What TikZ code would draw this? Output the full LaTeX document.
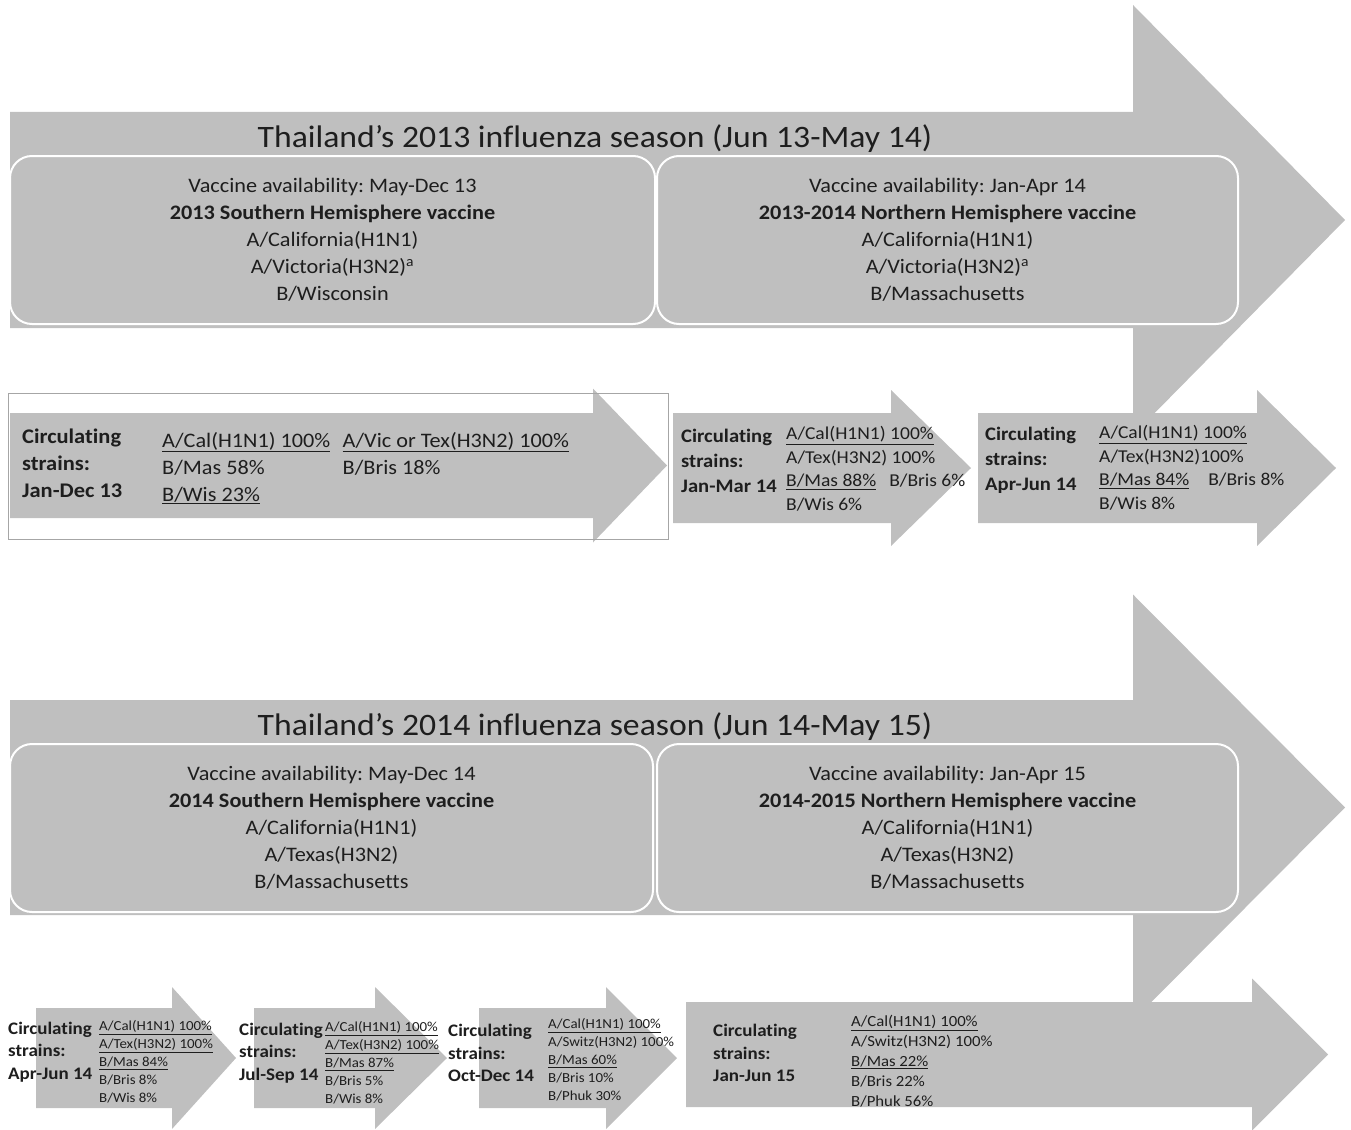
\documentclass[tikz,border=0pt]{standalone}
\usepackage{fontspec}
\setmainfont{Carlito}[FakeStretch=1.08,Ligatures=NoCommon]
\usepackage{xcolor}
\usepackage{tikz}
\usetikzlibrary{positioning}
\definecolor{arrowgray}{HTML}{BFBFBF}
\definecolor{inkgray}{HTML}{1E1E1E}
\definecolor{framegray}{HTML}{A6A6A6}
\frenchspacing

% block arrow: x left, y top, y bottom, x head, x tip, half head
\newcommand{\blockarrow}[6]{%
  \fill[arrowgray] (#1,#2) -- (#4,#2) -- (#4,{(#2+#3)/2-#6}) -- (#5,{(#2+#3)/2})
    -- (#4,{(#2+#3)/2+#6}) -- (#4,#3) -- (#1,#3) -- cycle;}

\begin{document}
\begin{tikzpicture}[
  x=1pt,y=-1pt,
  every node/.style={inner sep=0pt,text=inkgray},
  season/.style={font=\fontsize{31.2}{36}\selectfont},
  vacbox/.style={draw=white,line width=2pt,rounded corners=22pt,fill=arrowgray,align=center,
    minimum height=168pt,font=\fontsize{20.6}{27}\selectfont},
  circlarge/.style={anchor=west,align=left,font=\bfseries\fontsize{20.8}{27}\selectfont},
  circmid/.style={anchor=west,align=left,font=\bfseries\fontsize{19.1}{25}\selectfont},
  circsmall/.style={anchor=west,align=left,font=\bfseries\fontsize{17.6}{22.5}\selectfont},
  strainlarge/.style={anchor=west,align=left,font=\fontsize{20.6}{27}\selectfont},
  strainmid/.style={anchor=west,align=left,font=\fontsize{18.1}{23.5}\selectfont},
  strainsmall/.style={anchor=west,align=left,font=\fontsize{13.8}{18}\selectfont},
  strainwide/.style={anchor=west,align=left,font=\fontsize{15.5}{20}\selectfont}
]
\useasboundingbox (0,0) rectangle (1351,1129);

% season arrows
\blockarrow{10}{112}{328}{1133}{1345}{215}
\blockarrow{10}{700}{915}{1133}{1345}{213}

% 2013 season
\node[season] (title13) at (595,139) {Thailand’s 2013 influenza season (Jun 13-May 14)};
\node[vacbox,minimum width=645pt] (sh13) at (332.5,240) {Vaccine availability: May-Dec 13\\
  \textbf{2013 Southern Hemisphere vaccine}\\A/California(H1N1)\\
  A/Victoria(H3N2)\textsuperscript{a}\\B/Wisconsin};
\node[vacbox,minimum width=581pt,right=0pt of sh13] (nh1314) {Vaccine availability: Jan-Apr 14\\
  \textbf{2013-2014 Northern Hemisphere vaccine}\\A/California(H1N1)\\
  A/Victoria(H3N2)\textsuperscript{a}\\B/Massachusetts};

\blockarrow{10}{413}{518}{593}{667}{77}
\blockarrow{673}{413}{523}{891}{971}{78}
\blockarrow{978}{413}{523}{1257}{1336}{78}
\draw[framegray,line width=0.8pt] (8,393) rectangle (668,539);

\node[circlarge] (circ13) at (22,463) {Circulating\\strains:\\Jan-Dec 13};
\node[strainlarge] (str13) at (162,468) {\underline{A/Cal(H1N1) 100\%}\\B/Mas 58\%\\\underline{B/Wis 23\%}};
\node[strainlarge,below right=0pt and 12pt of str13.north east] (str13b)
  {\underline{A/Vic or Tex(H3N2) 100\%}\\B/Bris 18\%};

\node[circmid] (circjm14) at (681,461) {Circulating\\strains:\\Jan-Mar 14};
\node[strainmid] (strjm14) at (786,469) {\underline{A/Cal(H1N1) 100\%}\\A/Tex(H3N2) 100\%\\
  \underline{B/Mas 88\%}\hspace{13pt}B/Bris 6\%\\B/Wis 6\%};

\node[circmid] (circaj14) at (985,460) {Circulating\\strains:\\Apr-Jun 14};
\node[strainmid] (straj14) at (1099,468) {\underline{A/Cal(H1N1) 100\%}\\A/Tex(H3N2)100\%\\
  \underline{B/Mas 84\%}\hspace{19pt}B/Bris 8\%\\B/Wis 8\%};

% 2014 season
\node[season] (title14) at (595,727) {Thailand’s 2014 influenza season (Jun 14-May 15)};
\node[vacbox,minimum width=643pt] (sh14) at (331.5,828) {Vaccine availability: May-Dec 14\\
  \textbf{2014 Southern Hemisphere vaccine}\\A/California(H1N1)\\
  A/Texas(H3N2)\\B/Massachusetts};
\node[vacbox,minimum width=581pt,right=2pt of sh14] (nh1415) {Vaccine availability: Jan-Apr 15\\
  \textbf{2014-2015 Northern Hemisphere vaccine}\\A/California(H1N1)\\
  A/Texas(H3N2)\\B/Massachusetts};

\blockarrow{36}{1008}{1108}{172}{236}{71}
\blockarrow{254}{1008}{1108}{375}{447}{71}
\blockarrow{479}{1008}{1108}{606}{677}{71}
\blockarrow{686}{1002}{1107}{1252}{1328}{76}

\node[circsmall] (circaj14b) at (8,1052) {Circulating\\strains:\\Apr-Jun 14};
\node[strainsmall] (straj14b) at (99,1062) {\underline{A/Cal(H1N1) 100\%}\\\underline{A/Tex(H3N2) 100\%}\\
  \underline{B/Mas 84\%}\\B/Bris 8\%\\B/Wis 8\%};

\node[circsmall] (circjs14) at (239,1053) {Circulating\\strains:\\Jul-Sep 14};
\node[strainsmall] (strjs14) at (325,1063) {\underline{A/Cal(H1N1) 100\%}\\\underline{A/Tex(H3N2) 100\%}\\
  \underline{B/Mas 87\%}\\B/Bris 5\%\\B/Wis 8\%};

\node[circsmall] (circod14) at (448,1053) {Circulating\\strains:\\Oct-Dec 14};
\node[strainsmall] (strod14) at (548,1060) {\underline{A/Cal(H1N1) 100\%}\\A/Switz(H3N2) 100\%\\
  \underline{B/Mas 60\%}\\B/Bris 10\%\\B/Phuk 30\%};

\node[circsmall] (circjj15) at (713,1053) {Circulating\\strains:\\Jan-Jun 15};
\node[strainwide] (strjj15) at (851,1061) {\underline{A/Cal(H1N1) 100\%}\\A/Switz(H3N2) 100\%\\
  \underline{B/Mas 22\%}\\B/Bris 22\%\\B/Phuk 56\%};
\end{tikzpicture}
\end{document}
